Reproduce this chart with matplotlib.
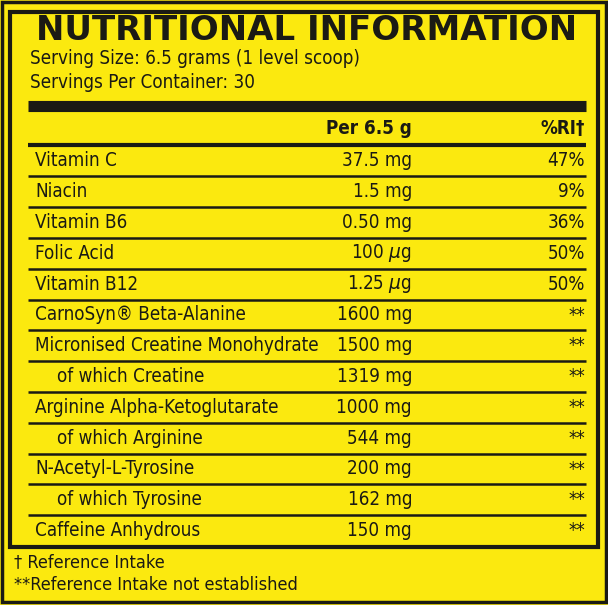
import matplotlib.pyplot as plt
from matplotlib.patches import Rectangle

YELLOW = "#fbe90f"
INK = "#1a1a14"

title = "NUTRITIONAL INFORMATION"
serving_lines = ["Serving Size: 6.5 grams (1 level scoop)", "Servings Per Container: 30"]
header = ["Per 6.5 g", "%RI†"]
nutrients = [
    "Vitamin C", "Niacin", "Vitamin B6", "Folic Acid", "Vitamin B12",
    "CarnoSyn® Beta-Alanine", "Micronised Creatine Monohydrate", "of which Creatine",
    "Arginine Alpha-Ketoglutarate", "of which Arginine", "N-Acetyl-L-Tyrosine",
    "of which Tyrosine", "Caffeine Anhydrous",
]
indented = [False, False, False, False, False, False, False, True, False, True, False, True, False]
amounts = ["37.5 mg", "1.5 mg", "0.50 mg", "100 $\\mu$g", "1.25 $\\mu$g", "1600 mg", "1500 mg",
           "1319 mg", "1000 mg", "544 mg", "200 mg", "162 mg", "150 mg"]
ri = ["47%", "9%", "36%", "50%", "50%", "**", "**", "**", "**", "**", "**", "**", "**"]
footnotes = ["† Reference Intake", "**Reference Intake not established"]

BODY = dict(family="DejaVu Sans", fontstretch="condensed", color=INK, va="center")
FS = 13.5

fig = plt.figure(figsize=(6.08, 6.05), dpi=100)
fig.patch.set_facecolor(YELLOW)
ax = fig.add_axes([0, 0, 1, 1])
ax.set_xlim(0, 608)
ax.set_ylim(605, 0)
ax.axis("off")

# borders
ax.add_patch(Rectangle((2, 2), 604, 600, fill=False, lw=2.5, ec=INK))
ax.add_patch(Rectangle((10, 12), 588, 535, fill=False, lw=3, ec=INK))

ax.text(307, 30, title, fontsize=24.5, fontweight="bold", family="DejaVu Sans",
        color=INK, va="center", ha="center")
for i, s in enumerate(serving_lines):
    ax.text(30, 58 + i * 25, s, fontsize=FS, **BODY)

ax.plot([28, 586], [106, 106], color=INK, lw=8, solid_capstyle="butt")
ax.text(412, 128, header[0], fontsize=FS, fontweight="bold", ha="right", **BODY)
ax.text(585, 128, header[1], fontsize=FS, fontweight="bold", ha="right", **BODY)
ax.plot([28, 586], [145, 145], color=INK, lw=3, solid_capstyle="butt")

row_h = 30.8
y0 = 161
for i, name in enumerate(nutrients):
    y = y0 + i * row_h
    x = 57 if indented[i] else 35
    ax.text(x, y, name, fontsize=FS, **BODY)
    ax.text(412, y, amounts[i], fontsize=FS, ha="right", **BODY)
    ax.text(585, y, ri[i], fontsize=FS, ha="right", **BODY)
    if i < len(nutrients) - 1:
        yl = y + row_h / 2
        ax.plot([28, 586], [yl, yl], color=INK, lw=1.8, solid_capstyle="butt")

for i, s in enumerate(footnotes):
    ax.text(14, 562 + i * 23, s, fontsize=13, **BODY)

fig.savefig("out.png", dpi=100, facecolor=YELLOW)
